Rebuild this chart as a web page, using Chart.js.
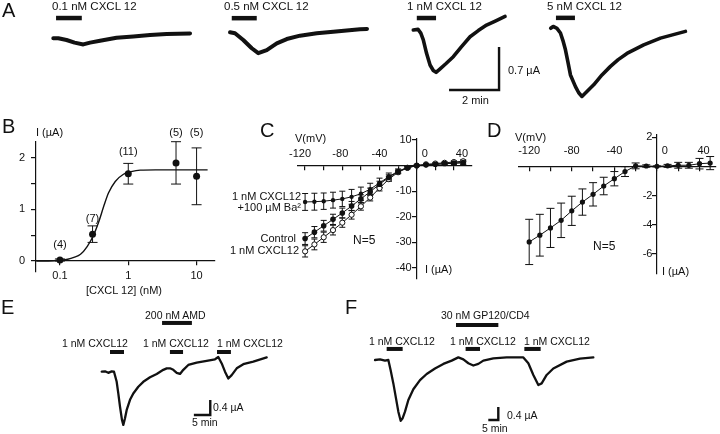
<!DOCTYPE html>
<html>
<head>
<meta charset="utf-8">
<script src="https://cdn.jsdelivr.net/npm/chart.js@4.4.1/dist/chart.umd.min.js"></script>
<style>
  html, body { margin: 0; padding: 0; background: #fff; }
  #fig { position: relative; width: 720px; height: 434px; overflow: hidden;
         font-family: "Liberation Sans", Arial, sans-serif; color: #111; }
  #fig canvas { position: absolute; left: 0; top: 0; }
  .t { position: absolute; white-space: nowrap; line-height: 1; }
</style>
</head>
<body>
<div id="fig"></div>
<script>
// =========================================================
// Datos
// =========================================================
const W = 720, H = 434;
const ink = '#111';

// A: corrientes individuales (min, µA)
const tA01 = [0, 0.2, 0.53, 0.85, 1.2, 1.47, 1.87, 2.53, 3.2, 3.87, 4.53, 5.47];
const iA01 = [0, 0, -0.028, -0.07, -0.1, -0.07, -0.04, 0.01, 0.03, 0.054, 0.07, 0.08];
const tA05 = [0, 0.2, 0.53, 0.87, 1.13, 1.47, 1.87, 2.27, 2.8, 3.47, 4.13, 5.2, 5.48];
const iA05 = [0, -0.016, -0.125, -0.26, -0.34, -0.29, -0.18, -0.11, -0.055, -0.016, 0.01, 0.049, 0.055];
const tA1 = [0, 0.19, 0.3, 0.4, 0.53, 0.67, 0.8, 0.91, 1.05, 1.3, 1.6, 1.93, 2.27, 2.6, 2.93, 3.3, 3.67];
const iA1 = [0, 0.01, -0.05, -0.16, -0.38, -0.57, -0.66, -0.69, -0.64, -0.55, -0.435, -0.27, -0.11, -0.01, 0.08, 0.15, 0.22];
const tA5 = [0, 0.1, 0.25, 0.39, 0.49, 0.59, 0.69, 0.79, 0.99, 1.12, 1.25, 1.45, 1.72, 2.05, 2.39, 2.7, 3.05, 3.72, 4.39, 5.39];
const iA5 = [0, 0.03, 0, -0.076, -0.2, -0.35, -0.55, -0.76, -0.95, -1.05, -1.11, -1.03, -0.92, -0.76, -0.62, -0.51, -0.41, -0.27, -0.16, -0.05];
const appA = [[0.11, 1.14], [0.07, 1.07], [0.14, 0.91], [0.21, 0.97]];   // aplicacion CXCL12 (min)
const appLevelA = [0.33, 0.23, 0.195, 0.17];
const doseLabelsA = ['0.1 nM CXCL 12', '0.5 nM CXCL 12', '1 nM CXCL 12', '5 nM CXCL 12'];
const scaleBarA = [2, 0.7];   // min, µA

// B: dosis-respuesta
const concB = [0.1, 0.3, 1, 5, 10];
const meanB = [0.02, 0.52, 1.69, 1.9, 1.64];
const semB = [0.02, 0.16, 0.2, 0.41, 0.55];
const nB = [4, 7, 11, 5, 5];
const fitConcB = [0.045, 0.08, 0.1, 0.13, 0.16, 0.2, 0.25, 0.31, 0.37, 0.435, 0.515, 0.645, 0.85, 1.1, 1.5, 2.5, 5, 14.5];
const fitIB = [0, 0.005, 0.015, 0.035, 0.07, 0.13, 0.28, 0.5, 0.76, 1.05, 1.32, 1.54, 1.68, 1.73, 1.76, 1.765, 1.765, 1.765];
const xTicksB = [0.1, 1, 10];
const yTicksB = [0, 0.5, 1, 1.5, 2];
const yLabelsB = [0, 1, 2];

// C y D: curvas I-V
const vIV = [-120, -110, -100, -90, -80, -70, -60, -50, -40, -30, -20, -10, 0, 10, 20, 30, 40, 50];
const iCtrlC = [-28.5, -26, -23.5, -21, -18.5, -15.8, -13, -10.2, -7.3, -4.6, -2.4, -0.8, 0, 0.3, 0.5, 0.8, 1.0, 1.2];
const semCtrlC = [2.3, 2.2, 2.1, 2.0, 1.9, 1.8, 1.6, 1.4, 1.2, 1.0, 0.7, 0.4, 0.2, 0.2, 0.3, 0.4, 0.5, 0.6];
const iCxC = [-33.5, -30.8, -28, -25.2, -22.3, -19.2, -15.9, -12.5, -8.8, -5.3, -2.6, -0.9, 0, 0.5, 0.8, 1.1, 1.4, 1.7];
const semCxC = [2.2, 2.1, 2.0, 1.9, 1.8, 1.7, 1.5, 1.3, 1.1, 0.9, 0.6, 0.4, 0.2, 0.3, 0.3, 0.4, 0.5, 0.6];
const iBaC = [-14.2, -14.1, -13.9, -13.5, -13, -12.2, -11, -9.2, -6.8, -4.3, -2.2, -0.7, 0, 0.3, 0.5, 0.7, 0.9, 1.1];
const semBaC = [3.3, 3.3, 3.2, 3.1, 3.0, 2.9, 2.6, 2.3, 1.9, 1.4, 0.9, 0.5, 0.2, 0.3, 0.4, 0.5, 0.6, 0.7];
const iD = [-5.18, -4.72, -4.22, -3.7, -3.05, -2.45, -1.92, -1.35, -0.85, -0.36, 0.03, 0.02, 0, 0.03, 0.07, 0.07, 0.18, 0.22];
const semD = [1.55, 1.43, 1.34, 1.18, 1.0, 0.9, 0.8, 0.6, 0.49, 0.34, 0.2, 0.08, 0.03, 0.1, 0.2, 0.2, 0.36, 0.45];
const xTicksIV = [-120, -100, -80, -60, -40, -20, 0, 20, 40];
const xLabelsIV = [-120, -80, -40, 0, 40];
const yTicksC = [-40, -30, -20, -10, 0, 10];
const yLabelsC = [-40, -30, -20, -10, 10];
const yTicksD = [-6, -4, -2, 0, 2];
const yLabelsD = [-6, -4, -2, 2];

// E: bloqueo con AMD (min, µA)
const tE = [0, 1, 2, 3.05, 3.75, 4.57, 5.06, 5.58, 6.19, 6.59, 7.1, 7.62, 8.63, 9.63, 11.16, 12.68, 14.73, 16.77, 18.78, 19.82, 20.82, 21.83, 22.87, 23.87, 24.88, 26.4, 28.96, 32.0, 34.54, 35.55, 36.59, 37.59, 38.6, 39.63, 41.16, 43.17, 46.22, 50.3];
const iE = [0, 0.01, -0.03, 0.01, 0, -0.27, -0.58, -0.93, -1.29, -1.42, -1.24, -1.02, -0.75, -0.58, -0.4, -0.27, -0.15, -0.06, 0.05, 0.09, 0.09, 0.05, -0.03, -0.06, 0.05, 0.18, 0.24, 0.29, 0.33, 0.39, 0.22, 0, -0.18, -0.09, 0.09, 0.2, 0.27, 0.38];
const appE = [[2.53, 6.8], [20.8, 24.8], [35.15, 39.4]];
const amdE = [18.4, 27.5];
const scaleBarE = [5, 0.4];

// F: bloqueo con GP120/CD4 (min, µA)
const tF = [0, 2.5, 5, 6.67, 7.8, 9.17, 10.5, 11.67, 12.83, 13.83, 15, 16.67, 19.17, 22.5, 25.83, 30, 34.17, 38.33, 41.67, 44.17, 46.67, 49.17, 51.67, 54.17, 59.17, 65.83, 74.17, 76.67, 79.17, 81.67, 83.33, 85.83, 89.17, 95.83, 102.5, 109.17];
const iF = [0, 0.02, -0.02, 0, -0.31, -0.72, -1.18, -1.59, -1.87, -1.79, -1.59, -1.23, -0.9, -0.62, -0.43, -0.26, -0.12, -0.02, 0.08, 0.02, -0.1, -0.17, -0.12, -0.02, 0.05, 0.08, 0.08, -0.1, -0.46, -0.77, -0.72, -0.46, -0.26, -0.05, 0.04, 0.08];
const appF = [[5.83, 13.83], [45.3, 52.5], [74.67, 82.83]];
const gpF = [40.5, 61.67];
const scaleBarF = [5, 0.4];

// =========================================================
// Utilidades
// =========================================================
const pts = (xs, ys) => xs.map((x, i) => ({ x, y: ys[i] }));
const figConf = new Map();

// barras de error, marcas de ejes y etiquetas de n
const figPlugin = {
  id: 'fig',
  beforeDatasetsDraw(chart) {
    const ctx = chart.ctx;
    chart.data.datasets.forEach((ds, i) => {
      if (!ds.errors) return;
      const meta = chart.getDatasetMeta(i);
      const ys = chart.scales[meta.yAxisID];
      ctx.save();
      ctx.strokeStyle = ink;
      ctx.lineWidth = 1;
      meta.data.forEach((pt, j) => {
        const v = ds.data[j].y, e = ds.errors[j];
        if (!e) return;
        const top = ys.getPixelForValue(v + e), bot = ys.getPixelForValue(v - e), c = ds.capHalf;
        ctx.beginPath();
        ctx.moveTo(pt.x, top); ctx.lineTo(pt.x, bot);
        ctx.moveTo(pt.x - c, top); ctx.lineTo(pt.x + c, top);
        ctx.moveTo(pt.x - c, bot); ctx.lineTo(pt.x + c, bot);
        ctx.stroke();
      });
      ctx.restore();
    });
  },
  afterDraw(chart) {
    const c = figConf.get(chart.canvas);
    if (!c || !c.xLabels) return;
    const ctx = chart.ctx, xs = chart.scales.x, ys = chart.scales.y;
    ctx.save();
    ctx.fillStyle = ink;
    ctx.textBaseline = 'middle';
    ctx.font = '11px "Liberation Sans", Arial, sans-serif';
    ctx.textAlign = 'center';
    const y0 = ys.getPixelForValue(c.xAt) + c.xDy;
    c.xLabels.forEach((v, i) => ctx.fillText(String(v), xs.getPixelForValue(v) + (c.xShift ? c.xShift[i] : 0), y0));
    ctx.textAlign = 'right';
    const x0 = xs.getPixelForValue(c.yAt) - c.yDx;
    c.yLabels.forEach(v => ctx.fillText(String(v), x0, ys.getPixelForValue(v)));
    if (c.notes) {
      ctx.textAlign = 'center';
      const meta = chart.getDatasetMeta(c.notes.ds);
      meta.data.forEach((pt, i) => ctx.fillText(c.notes.texts[i], pt.x, ys.getPixelForValue(c.notes.at[i])));
    }
    ctx.restore();
  }
};
Chart.register(figPlugin);

function plot(rect, scales, datasets, conf) {
  const cv = document.createElement('canvas');
  cv.width = W; cv.height = H;
  document.getElementById('fig').appendChild(cv);
  figConf.set(cv, conf || {});
  return new Chart(cv, {
    type: 'line',
    data: { datasets },
    options: {
      responsive: false, animation: false, devicePixelRatio: 1, events: [],
      layout: { padding: { left: rect[0], top: rect[1], right: W - rect[2], bottom: H - rect[3] } },
      plugins: { legend: { display: false }, tooltip: { enabled: false } },
      scales
    }
  });
}

// rectangulo del area de datos a partir del origen en pixeles y px por unidad
const frame = (org, k, xr, yr) => [org[0] + xr[0] * k[0], org[1] - yr[1] * k[1], org[0] + xr[1] * k[0], org[1] - yr[0] * k[1]];
const hidden = (xr, yr) => ({ x: { type: 'linear', display: false, min: xr[0], max: xr[1] }, y: { display: false, min: yr[0], max: yr[1] } });

const axis = (type, min, max, pos, marks) => ({
  type, min, max, position: pos,
  border: { color: ink, width: 1.2 },
  grid: { drawOnChartArea: false, color: ink, lineWidth: 1.2, tickLength: 4 },
  ticks: { display: false },
  afterBuildTicks: s => { s.ticks = marks.map(v => ({ value: v })); }
});

const traceDs = (xs, ys, w) => ({ data: pts(xs, ys), borderColor: ink, borderWidth: w, pointRadius: 0, clip: false, borderJoinStyle: 'round', borderCapStyle: 'round' });
const barDs = (span, level, w) => ({ data: [{ x: span[0], y: level }, { x: span[1], y: level }], borderColor: ink, borderWidth: w, pointRadius: 0, clip: false, borderCapStyle: 'butt' });
const scaleBarDs = (corner, len) => ({
  data: [{ x: corner[0] - len[0], y: corner[1] }, { x: corner[0], y: corner[1] }, { x: corner[0], y: corner[1] + len[1] }],
  borderColor: ink, borderWidth: 2.4, pointRadius: 0, clip: false, borderJoinStyle: 'miter', borderCapStyle: 'butt'
});
const meanDs = (xs, ys, errs, r, open, cap) => ({
  data: pts(xs, ys), errors: errs, capHalf: cap, borderColor: ink, borderWidth: 1, clip: false,
  pointRadius: r, pointBorderWidth: open ? 1 : 0, pointBorderColor: ink,
  pointBackgroundColor: open ? '#fff' : ink
});

// =========================================================
// A
// =========================================================
const kA = [25, 61.4];
const yrA = [-1.2, 0.35];
[[tA01, iA01, [53.3, 38.3], [-0.2, 5.7], 4],
 [tA05, iA05, [230, 32.3], [-0.2, 5.7], 4],
 [tA1, iA1, [413.3, 30], [-0.2, 3.8], 3.6],
 [tA5, iA5, [550.7, 28.3], [-0.2, 5.6], 3.6]].forEach(([t, i, org, xr, w], n) => {
  const ds = [traceDs(t, i, w), barDs(appA[n], appLevelA[n], 4.5)];
  if (n === 2) ds.push(scaleBarDs([3.43, -0.977], scaleBarA));
  plot(frame(org, kA, xr, yrA), hidden(xr, yrA), ds);
});

// =========================================================
// B
// =========================================================
const xrB = [0.0446, 18.6], yrB = [-0.207, 2.31];
const nLabelYB = [0.31, 0.81, 2.12, 2.47, 2.47];
plot([36, 141.7, 215, 271.7], {
  x: axis('logarithmic', xrB[0], xrB[1], { y: 0 }, xTicksB),
  y: axis('linear', yrB[0], yrB[1], { x: xrB[0] }, yTicksB)
}, [
  { data: pts(fitConcB, fitIB), borderColor: ink, borderWidth: 1.4, pointRadius: 0, cubicInterpolationMode: 'monotone', clip: false },
  Object.assign(meanDs(concB, meanB, semB, 3.5, false, 5), { showLine: false })
], {
  xLabels: xTicksB, xAt: 0, xDy: 15, yLabels: yLabelsB, yAt: xrB[0], yDx: 11,
  notes: { ds: 1, texts: nB.map(n => '(' + n + ')'), at: nLabelYB }
});

// =========================================================
// C
// =========================================================
const xrC = [-128, 59], yrC = [-44, 10.5];
plot(frame([416.7, 165.6], [0.93, 2.56], xrC, yrC), {
  x: axis('linear', xrC[0], xrC[1], { y: 0 }, xTicksIV),
  y: axis('linear', yrC[0], yrC[1], { x: 0 }, yTicksC)
}, [
  meanDs(vIV, iBaC, semBaC, 2.2, false, 3),
  meanDs(vIV, iCtrlC, semCtrlC, 2.8, false, 3),
  meanDs(vIV, iCxC, semCxC, 2.6, true, 3)
], { xLabels: xLabelsIV, xAt: 0, xDy: -12, xShift: [-5, -2, 0, 8, 8], yLabels: yLabelsC, yAt: 0, yDx: 5 });

// =========================================================
// D
// =========================================================
const xrD = [-130, 55.5], yrD = [-7.35, 2.2];
plot(frame([658.3, 166.3], [1.075, 14.6], xrD, yrD), {
  x: axis('linear', xrD[0], xrD[1], { y: 0 }, xTicksIV),
  y: axis('linear', yrD[0], yrD[1], { x: 0 }, yTicksD)
}, [
  meanDs(vIV, iD, semD, 2.6, false, 4)
], { xLabels: xLabelsIV, xAt: 0, xDy: -15, xShift: [0, 0, 0, 8, 4], yLabels: yLabelsD, yAt: 0, yDx: 4.5 });

// =========================================================
// E y F
// =========================================================
const xrE = [-1, 52], yrE = [-1.6, 1.5];
plot(frame([101.7, 371.7], [3.28, 37.5], xrE, yrE), hidden(xrE, yrE), [
  traceDs(tE, iE, 2.3),
  ...appE.map(s => barDs(s, 0.525, 4)),
  barDs(amdE, 1.3, 4),
  scaleBarDs([33.1, -1.155], scaleBarE)
]);

const xrF = [-1, 111], yrF = [-2.1, 1.3];
plot(frame([375, 360], [2, 32.5], xrF, yrF), hidden(xrF, yrF), [
  traceDs(tF, iF, 2.3),
  ...appF.map(s => barDs(s, 0.34, 4)),
  barDs(gpF, 1.08, 4),
  scaleBarDs([61.65, -1.846], scaleBarF)
]);

// =========================================================
// Textos
// =========================================================
const notes = [
  // [texto, x, y centro, tamano, alineacion]
  ['A', 2, 10, 20, 'l'],
  ...doseLabelsA.map((s, i) => [s, [52, 224, 407, 547][i], 6.5, 11.5, 'l']),
  ['0.7 µA', 508, 70, 11, 'l'], ['2 min', 462, 100, 11, 'l'],
  ['B', 2, 126, 20, 'l'], ['I (µA)', 36, 131.5, 11, 'l'], ['[CXCL 12] (nM)', 124, 290, 11, 'c'],
  ['C', 260, 130, 20, 'l'], ['V(mV)', 295, 137.5, 11, 'l'],
  ['1 nM CXCL12', 301, 195.5, 11, 'r'], ['+100 µM Ba²', 301, 206.5, 11, 'r'],
  ['Control', 296, 238, 11, 'r'], ['1 nM CXCL12', 299, 250, 11, 'r'],
  ['N=5', 353, 240, 12, 'l'], ['I (µA)', 425, 269, 11, 'l'],
  ['D', 487, 130, 20, 'l'], ['V(mV)', 515, 136.7, 11, 'l'],
  ['N=5', 593, 246, 12, 'l'], ['I (µA)', 662, 271, 11, 'l'],
  ['E', 1, 306.5, 20, 'l'], ['200 nM AMD', 145, 315, 10.5, 'l'],
  ['1 nM CXCL12', 62, 343, 10.5, 'l'], ['1 nM CXCL12', 143, 343, 10.5, 'l'], ['1 nM CXCL12', 217, 343, 10.5, 'l'],
  ['0.4 µA', 213, 407, 10.5, 'l'], ['5 min', 192, 421.7, 10.5, 'l'],
  ['F', 345, 306.5, 20, 'l'], ['30 nM GP120/CD4', 441, 315, 10.5, 'l'],
  ['1 nM CXCL12', 369, 341, 10.5, 'l'], ['1 nM CXCL12', 450, 341, 10.5, 'l'], ['1 nM CXCL12', 524, 341, 10.5, 'l'],
  ['0.4 µA', 507, 415, 10.5, 'l'], ['5 min', 482, 428, 10.5, 'l']
];
const shiftX = { l: '0', c: '-50%', r: '-100%' };
notes.forEach(([s, x, y, size, al]) => {
  const d = document.createElement('div');
  d.className = 't';
  d.textContent = s;
  d.style.left = x + 'px';
  d.style.top = y + 'px';
  d.style.fontSize = size + 'px';
  d.style.transform = 'translate(' + shiftX[al] + ', -50%)';
  document.getElementById('fig').appendChild(d);
});
</script>
</body>
</html>
